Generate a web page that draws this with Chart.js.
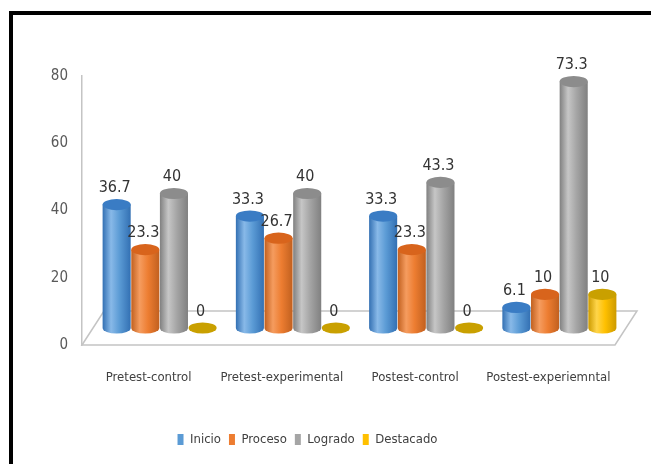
<!DOCTYPE html>
<html><head><meta charset="utf-8">
<script src="https://cdn.jsdelivr.net/npm/chart.js@4"></script>
<style>html,body{margin:0;padding:0;background:#fff}#c{display:block}</style>
</head><body>
<canvas id="c" width="651" height="464"></canvas>
<script>
const categories = ["Pretest-control","Pretest-experimental","Postest-control","Postest-experiemntal"];
const seriesNames = ["Inicio","Proceso","Logrado","Destacado"];
const inicio = [36.7,33.3,33.3,6.1];
const proceso = [23.3,26.7,23.3,10];
const logrado = [40,40,43.3,73.3];
const destacado = [0,0,0,10];
const yTicks = [0,20,40,60,80];

const FONT = '"Liberation Sans Narrow","DejaVu Sans Condensed","Liberation Sans",sans-serif';
const palette = [
  {base:'#5B9BD5', light:'#88b9e8', dark:'#3370b3', cap:'#3a7cc4'},
  {base:'#ED7D31', light:'#f59c5f', dark:'#c1601f', cap:'#d8641c'},
  {base:'#A5A5A5', light:'#c6c6c6', dark:'#808080', cap:'#8c8c8c'},
  {base:'#FFC000', light:'#ffd54a', dark:'#cc9a00', cap:'#c9a000'}
];
const DX = 11, DY = -17;

function sideGradient(c, el, p){
  const w = el.width, x0 = el.x - w/2;
  const g = c.createLinearGradient(x0,0,x0+w,0);
  g.addColorStop(0,p.dark); g.addColorStop(0.3,p.light); g.addColorStop(0.6,p.base); g.addColorStop(1,p.dark);
  return g;
}

const cyl = {
  id:'cyl',
  beforeDraw(chart){
    const c = chart.ctx;
    c.save();
    c.fillStyle='#fff'; c.fillRect(0,0,chart.width,chart.height);
    c.fillStyle='#000';
    c.fillRect(9,11,chart.width-9,4);
    c.fillRect(9,11,4,chart.height-11);
    c.restore();
  },
  beforeDatasetsDraw(chart){
    const c = chart.ctx, a = chart.chartArea;
    c.save();
    c.strokeStyle='#c4c4c4'; c.lineWidth=1.5;
    c.beginPath();
    c.moveTo(a.left,a.bottom);
    c.lineTo(a.left+2*DX,a.bottom+2*DY);
    c.lineTo(a.right+2*DX,a.bottom+2*DY);
    c.lineTo(a.right,a.bottom);
    c.closePath(); c.stroke();
    c.restore();
    c.save();
    c.translate(DX,DY);
    chart.data.datasets.forEach((ds,i)=>{
      const p = palette[i];
      chart.getDatasetMeta(i).data.forEach(el=>{
        el.options = Object.assign({}, el.options, {backgroundColor:sideGradient(c, el, p)});
      });
    });
  },
  afterDatasetsDraw(chart){
    const c = chart.ctx;
    chart.data.datasets.forEach((ds,i)=>{
      const p = palette[i];
      chart.getDatasetMeta(i).data.forEach((el,j)=>{
        const w = el.width, rx = w/2, ry = w*0.2;
        if (ds.data[j] > 0) {
          c.fillStyle = sideGradient(c, el, p);
          c.beginPath(); c.ellipse(el.x, el.base, rx, ry, 0, 0, Math.PI); c.fill();
        }
        c.fillStyle = p.cap;
        c.beginPath(); c.ellipse(el.x, el.y, rx, ry, 0, 0, Math.PI*2); c.fill();
        c.fillStyle = '#333';
        c.font = '16px ' + FONT;
        c.textAlign = 'center'; c.textBaseline = 'bottom';
        c.fillText(String(ds.data[j]), el.x - 2, el.y - ry - 3);
      });
    });
    c.restore();
  }
};

const seriesData = [inicio, proceso, logrado, destacado];
new Chart(document.getElementById('c'), {
  type:'bar',
  data:{
    labels: categories,
    datasets: seriesNames.map((n,i)=>({
      label:n, data:seriesData[i], backgroundColor:palette[i].base,
      borderWidth:0, categoryPercentage:0.86, barPercentage:0.98, clip:false
    }))
  },
  options:{
    responsive:false, animation:false, devicePixelRatio:1,
    layout:{padding:{left:0,right:36,top:76,bottom:8}},
    plugins:{
      tooltip:{enabled:false},
      legend:{position:'bottom', labels:{boxWidth:6, boxHeight:11, padding:8, color:'#404040', font:{size:13, family:FONT}}}
    },
    scales:{
      x:{grid:{display:false, drawTicks:false}, border:{display:false},
         ticks:{color:'#404040', padding:25, font:{size:13, family:FONT}},
         afterFit:s=>{s.height=80;}},
      y:{min:0, max:80, grid:{display:false, drawTicks:false}, border:{color:'#c4c4c4', width:1.5},
         afterBuildTicks:s=>{s.ticks = yTicks.map(v=>({value:v}));},
         ticks:{color:'#595959', padding:14, font:{size:15, family:FONT}},
         afterFit:s=>{s.width=82;}}
    }
  },
  plugins:[cyl]
});
</script>
</body></html>
